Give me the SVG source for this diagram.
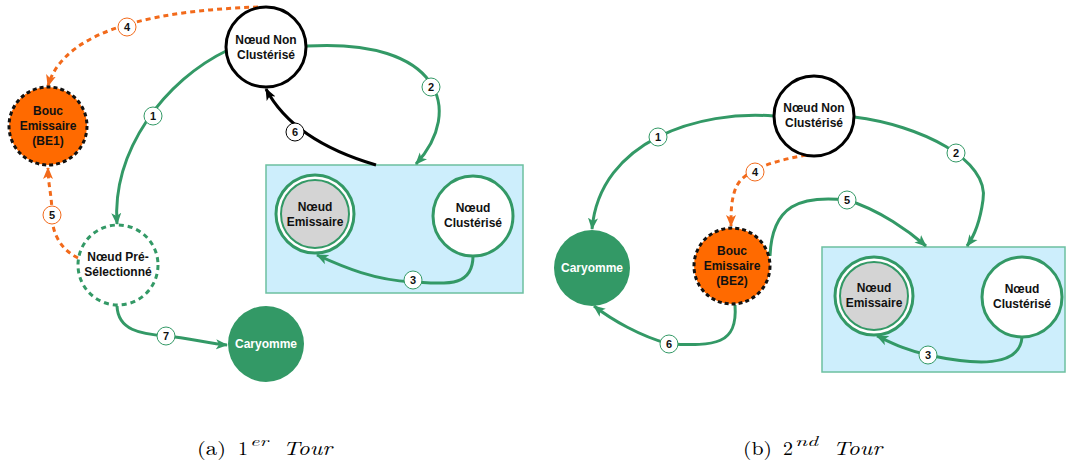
<svg xmlns="http://www.w3.org/2000/svg" width="1067" height="465" viewBox="0 0 1067 465">
<defs>
<style>
.nt{font-family:"Liberation Sans",Arial,sans-serif;font-weight:bold;font-size:12px;text-anchor:middle;fill:#111}
.wt{fill:#fff}
.g{fill:none;stroke:#339966;stroke-width:3}
.k{fill:none;stroke:#000;stroke-width:3}
.o{fill:none;stroke:#f26a1b;stroke-width:3;stroke-dasharray:5,4}
.lb{fill:#fff;stroke-width:1}
.lt{font-family:"Liberation Sans",Arial,sans-serif;font-weight:bold;font-size:11px;text-anchor:middle;fill:#111}
.cap{font-family:"Latin Modern Roman","Liberation Serif","DejaVu Serif",serif;font-size:19px;fill:#000}
.sup{font-family:"Latin Modern Roman","Liberation Serif","DejaVu Serif",serif;font-size:14px;font-style:italic;fill:#000}
.it{font-style:italic}
</style>
<marker id="ag" markerUnits="userSpaceOnUse" markerWidth="12" markerHeight="12" viewBox="0 0 12 12" refX="11" refY="6" orient="auto"><path d="M0,1 L12,6 L0,11 L3,6 Z" fill="#339966"/></marker>
<marker id="ak" markerUnits="userSpaceOnUse" markerWidth="12" markerHeight="12" viewBox="0 0 12 12" refX="11" refY="6" orient="auto"><path d="M0,1 L12,6 L0,11 L3,6 Z" fill="#000"/></marker>
<marker id="ao" markerUnits="userSpaceOnUse" markerWidth="12" markerHeight="12" viewBox="0 0 12 12" refX="11" refY="6" orient="auto"><path d="M0,1 L12,6 L0,11 L3,6 Z" fill="#f26a1b"/></marker>
</defs>
<rect width="1067" height="465" fill="#fff"/>

<!-- cluster boxes -->
<rect id="clusterA" x="266" y="165" width="257" height="128" fill="#cdeefc" stroke="#6cc0a0" stroke-width="1.5"/>
<rect id="clusterB" x="822" y="247" width="243" height="125" fill="#cdeefc" stroke="#6cc0a0" stroke-width="1.5"/>

<g id="connectors">
 <!-- left panel -->
 <path class="g" d="M228,50 C165,80 112,150 117,224" marker-end="url(#ag)"/>
 <path class="g" d="M307,46 C440,38 465,110 416,164" marker-end="url(#ag)"/>
 <path class="k" d="M376,165 C325,150 285,125 266,89" marker-end="url(#ak)"/>
 <path class="g" d="M473,256 C473,290 440,283 412,282 C375,280 345,268 317,255" marker-end="url(#ag)"/>
 <path class="o" d="M258,7 C170,10 65,25 48,86" marker-end="url(#ao)"/>
 <path class="o" d="M78,258 C62,250 52,235 52,215 C52,195 48,185 48,168" marker-end="url(#ao)"/>
 <path class="g" d="M117,306 C118,330 140,334 166,336 C190,338 210,344 227,345" marker-end="url(#ag)"/>
 <!-- right panel -->
 <path class="g" d="M774,116 C700,110 600,140 592,229" marker-end="url(#ag)"/>
 <path class="g" d="M854,117 C920,125 990,160 983,200 C980,222 975,235 967,246" marker-end="url(#ag)"/>
 <path class="o" d="M806,155 C780,160 742,168 735,190 C731,202 731,212 731,226" marker-end="url(#ao)"/>
 <path class="g" d="M770,256 C772,205 800,195 847,200 C880,210 910,232 926,246" marker-end="url(#ag)"/>
 <path class="g" d="M735,305 C738,345 715,346 669,344 C640,336 612,320 594,306" marker-end="url(#ag)"/>
 <path class="g" d="M1022,337 C1020,368 975,365 928,355 C905,350 892,343 877,336" marker-end="url(#ag)"/>

 <!-- labels -->
 <circle class="lb" cx="153" cy="116" r="9" stroke="#339966"/><text class="lt" x="153" y="120">1</text>
 <circle class="lb" cx="431" cy="87" r="9" stroke="#339966"/><text class="lt" x="431" y="91">2</text>
 <circle class="lb" cx="413" cy="280" r="9" stroke="#339966"/><text class="lt" x="413" y="284">3</text>
 <circle class="lb" cx="127" cy="27" r="9" stroke="#f26a1b"/><text class="lt" x="127" y="31">4</text>
 <circle class="lb" cx="52" cy="215" r="9" stroke="#f26a1b"/><text class="lt" x="52" y="219">5</text>
 <circle class="lb" cx="295" cy="132" r="9" stroke="#000"/><text class="lt" x="295" y="136">6</text>
 <circle class="lb" cx="166" cy="336" r="9" stroke="#339966"/><text class="lt" x="166" y="340">7</text>

 <circle class="lb" cx="658" cy="137" r="9" stroke="#339966"/><text class="lt" x="658" y="141">1</text>
 <circle class="lb" cx="956" cy="153" r="9" stroke="#339966"/><text class="lt" x="956" y="157">2</text>
 <circle class="lb" cx="928" cy="355" r="9" stroke="#339966"/><text class="lt" x="928" y="359">3</text>
 <circle class="lb" cx="755" cy="172" r="9" stroke="#f26a1b"/><text class="lt" x="755" y="176">4</text>
 <circle class="lb" cx="847" cy="200" r="9" stroke="#339966"/><text class="lt" x="847" y="204">5</text>
 <circle class="lb" cx="669" cy="344" r="9" stroke="#339966"/><text class="lt" x="669" y="348">6</text>
</g>

<!-- left panel nodes -->
<g id="a_nonclust">
 <circle cx="266" cy="47" r="40" fill="#fff" stroke="#000" stroke-width="3"/>
 <text class="nt" x="266" y="44">Nœud Non</text><text class="nt" x="266" y="59">Clustérisé</text>
</g>
<g id="a_be1">
 <circle cx="48" cy="126" r="39" fill="#ff6a00" stroke="#111" stroke-width="3" stroke-dasharray="4,3"/>
 <text class="nt" x="48" y="115">Bouc</text><text class="nt" x="48" y="130">Emissaire</text><text class="nt" x="48" y="145">(BE1)</text>
</g>
<g id="a_presel">
 <circle cx="118" cy="265" r="40" fill="#fff" stroke="#339966" stroke-width="3" stroke-dasharray="5,4"/>
 <text class="nt" x="118" y="261">Nœud Pré-</text><text class="nt" x="118" y="276">Sélectionné</text>
</g>
<g id="a_caryomme">
 <circle cx="266" cy="344" r="38" fill="#339966"/>
 <text class="nt wt" x="266" y="348">Caryomme</text>
</g>
<g id="a_emissaire">
 <circle cx="315" cy="214" r="39" fill="#fff" stroke="#339966" stroke-width="3"/>
 <circle cx="315" cy="214" r="34" fill="#d4d4d4" stroke="#339966" stroke-width="2"/>
 <text class="nt" x="315" y="211">Nœud</text><text class="nt" x="315" y="226">Emissaire</text>
</g>
<g id="a_clust">
 <circle cx="473" cy="216" r="40" fill="#fff" stroke="#339966" stroke-width="3"/>
 <text class="nt" x="473" y="212">Nœud</text><text class="nt" x="473" y="227">Clustérisé</text>
</g>

<!-- right panel nodes -->
<g id="b_nonclust">
 <circle cx="814" cy="116" r="40" fill="#fff" stroke="#000" stroke-width="3"/>
 <text class="nt" x="814" y="112">Nœud Non</text><text class="nt" x="814" y="127">Clustérisé</text>
</g>
<g id="b_caryomme">
 <circle cx="592" cy="268" r="38" fill="#339966"/>
 <text class="nt wt" x="592" y="272">Caryomme</text>
</g>
<g id="b_be2">
 <circle cx="732" cy="266" r="38" fill="#ff6a00" stroke="#111" stroke-width="3" stroke-dasharray="4,3"/>
 <text class="nt" x="732" y="255">Bouc</text><text class="nt" x="732" y="270">Emissaire</text><text class="nt" x="732" y="285">(BE2)</text>
</g>
<g id="b_emissaire">
 <circle cx="874" cy="296" r="39" fill="#fff" stroke="#339966" stroke-width="3"/>
 <circle cx="874" cy="296" r="34" fill="#d4d4d4" stroke="#339966" stroke-width="2"/>
 <text class="nt" x="874" y="292">Nœud</text><text class="nt" x="874" y="307">Emissaire</text>
</g>
<g id="b_clust">
 <circle cx="1022" cy="297" r="40" fill="#fff" stroke="#339966" stroke-width="3"/>
 <text class="nt" x="1022" y="293">Nœud</text><text class="nt" x="1022" y="308">Clustérisé</text>
</g>

<!-- captions -->
<g id="captionA">
 <text class="cap" x="197" y="455" textLength="29" lengthAdjust="spacingAndGlyphs">(a)</text>
 <text class="cap" x="238" y="455" textLength="10" lengthAdjust="spacingAndGlyphs">1</text>
 <text class="sup" x="250" y="446" textLength="18" lengthAdjust="spacingAndGlyphs">er</text>
 <text class="cap it" x="283" y="455" textLength="49" lengthAdjust="spacingAndGlyphs">Tour</text>
</g>
<g id="captionB">
 <text class="cap" x="743" y="455" textLength="29" lengthAdjust="spacingAndGlyphs">(b)</text>
 <text class="cap" x="783" y="455" textLength="10" lengthAdjust="spacingAndGlyphs">2</text>
 <text class="sup" x="795" y="446" textLength="23" lengthAdjust="spacingAndGlyphs">nd</text>
 <text class="cap it" x="833" y="455" textLength="49" lengthAdjust="spacingAndGlyphs">Tour</text>
</g>
</svg>
